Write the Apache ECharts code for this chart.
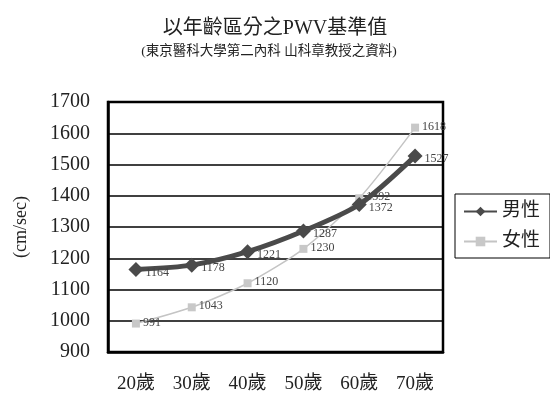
<!DOCTYPE html>
<html>
<head>
<meta charset="utf-8">
<script src="https://cdn.jsdelivr.net/npm/echarts@6/dist/echarts.min.js"></script>
<style>html,body{margin:0;padding:0;background:#fff}#c{width:550px;height:395px}</style>
</head>
<body>
<div id="c"></div>
<script>
var categories = ['20歲','30歲','40歲','50歲','60歲','70歲'];
var maleValues = [1164, 1178, 1221, 1287, 1372, 1527];
var femaleValues = [991, 1043, 1120, 1230, 1392, 1618];
var seriesNames = ['男性', '女性'];
var titleText = '以年齡區分之PWV基準值';
var subtitleText = '(東京醫科大學第二內科 山科章教授之資料)';
var yAxisName = '(cm/sec)';

var FONT = '"Liberation Serif", "Noto Sans CJK TC", serif';
var chart = echarts.init(document.getElementById('c'));
chart.setOption({
  animation: false,
  backgroundColor: '#fff',
  title: [{
    text: titleText, left: 270, top: 14, textAlign: 'center',
    textStyle: {fontFamily: FONT, fontSize: 20, fontWeight: 'normal', color: '#222'}
  }, {
    text: subtitleText, left: 264, top: 40, textAlign: 'center',
    textStyle: {fontFamily: FONT, fontSize: 13.5, fontWeight: 'normal', color: '#222'}
  }],
  grid: {left: 108, right: 107, top: 102, bottom: 43, show: true, borderColor: '#000', borderWidth: 2.5, backgroundColor: '#fff'},
  legend: {
    orient: 'vertical', left: 455, top: 194, width: 100,
    borderColor: '#000', borderWidth: 1, borderRadius: 0,
    padding: [8, 10, 7, 8], itemGap: 11, itemWidth: 33, itemHeight: 12,
    textStyle: {fontFamily: FONT, fontSize: 19, color: '#222'},
    data: seriesNames
  },
  xAxis: {
    type: 'category', data: categories, boundaryGap: true,
    axisLine: {lineStyle: {color: '#000', width: 2.5}},
    axisTick: {inside: true, length: 6, lineStyle: {color: '#000', width: 1.5}},
    axisLabel: {fontFamily: FONT, fontSize: 19, color: '#222', margin: 23}
  },
  yAxis: {
    type: 'value', min: 900, max: 1700, interval: 100,
    name: yAxisName, nameLocation: 'middle', nameGap: 78, nameRotate: 90,
    nameTextStyle: {fontFamily: FONT, fontSize: 18, color: '#222'},
    axisLine: {show: true, lineStyle: {color: '#000', width: 2.5}},
    axisTick: {show: false},
    axisLabel: {fontFamily: FONT, fontSize: 20, color: '#222', margin: 18, formatter: function (v) { return String(v); }},
    splitLine: {lineStyle: {color: '#000', width: 1.5}}
  },
  series: [{
    name: seriesNames[0], type: 'line', data: maleValues, smooth: 0.25,
    symbol: 'diamond', symbolSize: 15,
    lineStyle: {color: '#4a4a4a', width: 5},
    itemStyle: {color: '#4a4a4a'},
    label: {show: true, position: 'right', distance: 2, offset: [0, 3], fontFamily: FONT, fontSize: 12, color: '#444'},
    z: 3
  }, {
    name: seriesNames[1], type: 'line', data: femaleValues, smooth: 0.25,
    symbol: 'rect', symbolSize: 8,
    lineStyle: {color: '#c4c4c4', width: 1.5},
    itemStyle: {color: '#c8c8c8'},
    label: {show: true, position: 'right', distance: 3, offset: [0, -1], fontFamily: FONT, fontSize: 12, color: '#444'},
    z: 2
  }]
});
</script>
</body>
</html>
